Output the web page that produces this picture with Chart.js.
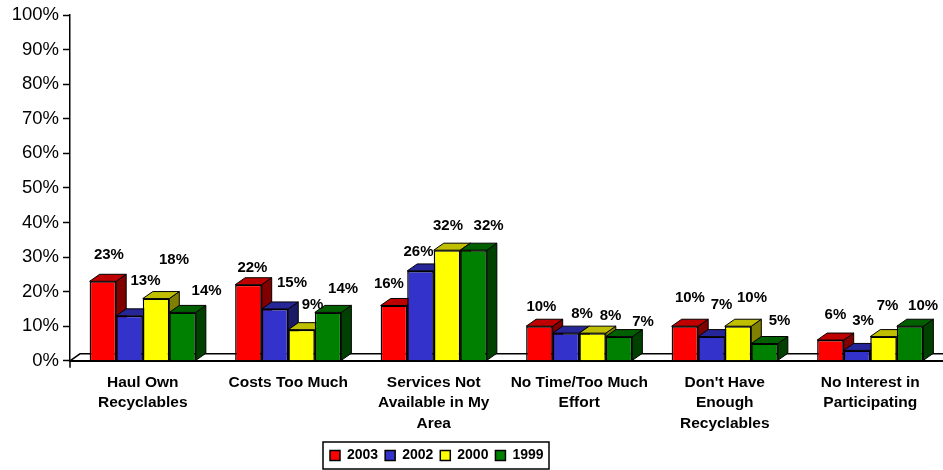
<!DOCTYPE html>
<html>
<head>
<meta charset="utf-8">
<script src="https://cdn.jsdelivr.net/npm/chart.js@4"></script>
<style>
  html, body { margin: 0; padding: 0; background: #fff; }
  canvas { display: block; }
</style>
</head>
<body>
<canvas id="recyclingChart" width="943" height="470"></canvas>
<script>
// values
const categories = [
    ['Haul Own', 'Recyclables'],
    'Costs Too Much',
    ['Services Not', 'Available in My', 'Area'],
    ['No Time/Too Much', 'Effort'],
    ["Don't Have", 'Enough', 'Recyclables'],
    ['No Interest in', 'Participating']
];
const years = ['2003', '2002', '2000', '1999'];
const values2003 = [23, 22, 16, 10, 10, 6];
const values2002 = [13, 15, 26, 8, 7, 3];
const values2000 = [18, 9, 32, 8, 10, 7];
const values1999 = [14, 14, 32, 7, 5, 10];
const yTickLabels = ['0%', '10%', '20%', '30%', '40%', '50%', '60%', '70%', '80%', '90%', '100%'];

// the value labels in the original were placed by hand, [dx, dy] from the bar top
const labelNudge = [
    [[6, -26], [4, -17], [-5, -22], [2, -19], [5, -28], [5, -25]],
    [[16, -35], [17, -26], [-2, -19], [16, -19], [10, -32], [6, -30]],
    [[18, -39], [11, -25], [1, -24], [18, -17], [14, -28], [4, -31]],
    [[24, -22], [15, -24], [15, -24], [24, -15], [15, -23], [13, -20]]
];

const frontColors = ['#FF0000', '#3333CC', '#FFFF00', '#008000'];
const topColors = ['#BF0000', '#262699', '#BFBF00', '#006000'];
const sideColors = ['#800000', '#1A1A66', '#808000', '#004000'];
const depthX = 10;
const depthY = 7;

function face(ctx, pts, fill) {
    ctx.beginPath();
    ctx.moveTo(pts[0][0], pts[0][1]);
    pts.slice(1).forEach(p => ctx.lineTo(p[0], p[1]));
    ctx.closePath();
    ctx.fillStyle = fill;
    ctx.fill();
    ctx.stroke();
}

// floor, fake 3D faces of the bars, value labels and legend frame
const fake3d = {
    id: 'fake3d',
    afterLayout(chart) {
        // legend sits left of centre in the original; right is left wide so it stays on one line
        const lg = chart.legend;
        lg.left = 323;
        lg.right = 943;
        lg.top = 441.6;
        lg.bottom = 469;
    },
    beforeDatasetsDraw(chart) {
        const ctx = chart.ctx;
        const area = chart.chartArea;
        const y0 = chart.scales.y.getPixelForValue(0);
        ctx.save();
        ctx.strokeStyle = '#000';
        ctx.lineWidth = 1.5;
        ctx.beginPath();
        ctx.moveTo(area.left, y0);
        ctx.lineTo(area.left + depthX, y0 - depthY);
        ctx.lineTo(area.right, y0 - depthY);
        ctx.moveTo(area.left, y0);
        ctx.lineTo(area.left, y0 + 7);
        ctx.stroke();
        chart.data.labels.forEach((c, i) => {
            chart.data.datasets.forEach((ds, d) => {
                const bar = chart.getDatasetMeta(d).data[i];
                const l = bar.x - bar.width / 2;
                const r = bar.x + bar.width / 2;
                ctx.lineWidth = 1;
                face(ctx, [[r, bar.y], [r + depthX, bar.y - depthY], [r + depthX, bar.base - depthY], [r, bar.base]], sideColors[d]);
                face(ctx, [[l, bar.y], [l + depthX, bar.y - depthY], [r + depthX, bar.y - depthY], [r, bar.y]], topColors[d]);
            });
        });
        ctx.restore();
    },
    afterDatasetsDraw(chart) {
        const ctx = chart.ctx;
        ctx.save();
        ctx.font = 'bold 15px "Liberation Sans"';
        ctx.fillStyle = '#000';
        ctx.textAlign = 'center';
        ctx.textBaseline = 'middle';
        chart.data.datasets.forEach((ds, d) => {
            chart.getDatasetMeta(d).data.forEach((bar, i) => {
                const n = labelNudge[d][i];
                ctx.fillText(ds.data[i] + '%', bar.x + n[0], bar.y + n[1]);
            });
        });
        ctx.restore();
    },
    afterDraw(chart) {
        const ctx = chart.ctx;
        ctx.save();
        ctx.strokeStyle = '#000';
        ctx.lineWidth = 1.5;
        ctx.strokeRect(323, 442, 226, 27);
        ctx.restore();
    }
};

const allValues = [values2003, values2002, values2000, values1999];

new Chart(document.getElementById('recyclingChart').getContext('2d'), {
    type: 'bar',
    plugins: [fake3d],
    data: {
        labels: categories,
        datasets: years.map((year, d) => ({
            label: year,
            data: allValues[d],
            backgroundColor: frontColors[d],
            borderColor: '#000',
            borderWidth: 1.5,
            categoryPercentage: 0.73,
            barPercentage: 1
        }))
    },
    options: {
        responsive: false,
        animation: false,
        layout: { padding: { top: 11 } },
        plugins: {
            tooltip: { enabled: false },
            legend: {
                position: 'bottom',
                align: 'start',
                labels: {
                    boxWidth: 10,
                    boxHeight: 10,
                    padding: 7,
                    color: '#000',
                    font: { family: '"Liberation Sans"', size: 14, weight: 'bold' }
                }
            }
        },
        scales: {
            x: {
                afterFit(scale) { scale.height = 78.2; },
                grid: { display: false, drawTicks: false },
                border: { color: '#000', width: 2 },
                ticks: {
                    color: '#000',
                    padding: 11,
                    maxRotation: 0,
                    autoSkip: false,
                    font: { family: '"Liberation Sans"', size: 15.5, weight: 'bold', lineHeight: 1.35 }
                }
            },
            y: {
                min: 0,
                max: 100,
                afterFit(scale) { scale.width = 70; },
                grid: { drawOnChartArea: false, color: '#000', tickLength: 7, tickWidth: 1.5 },
                border: { color: '#000', width: 1.5 },
                ticks: {
                    stepSize: 10,
                    color: '#000',
                    padding: 4,
                    font: { family: '"Liberation Sans"', size: 18.5 },
                    callback: (v, i) => yTickLabels[i]
                }
            }
        }
    }
});
</script>
</body>
</html>
